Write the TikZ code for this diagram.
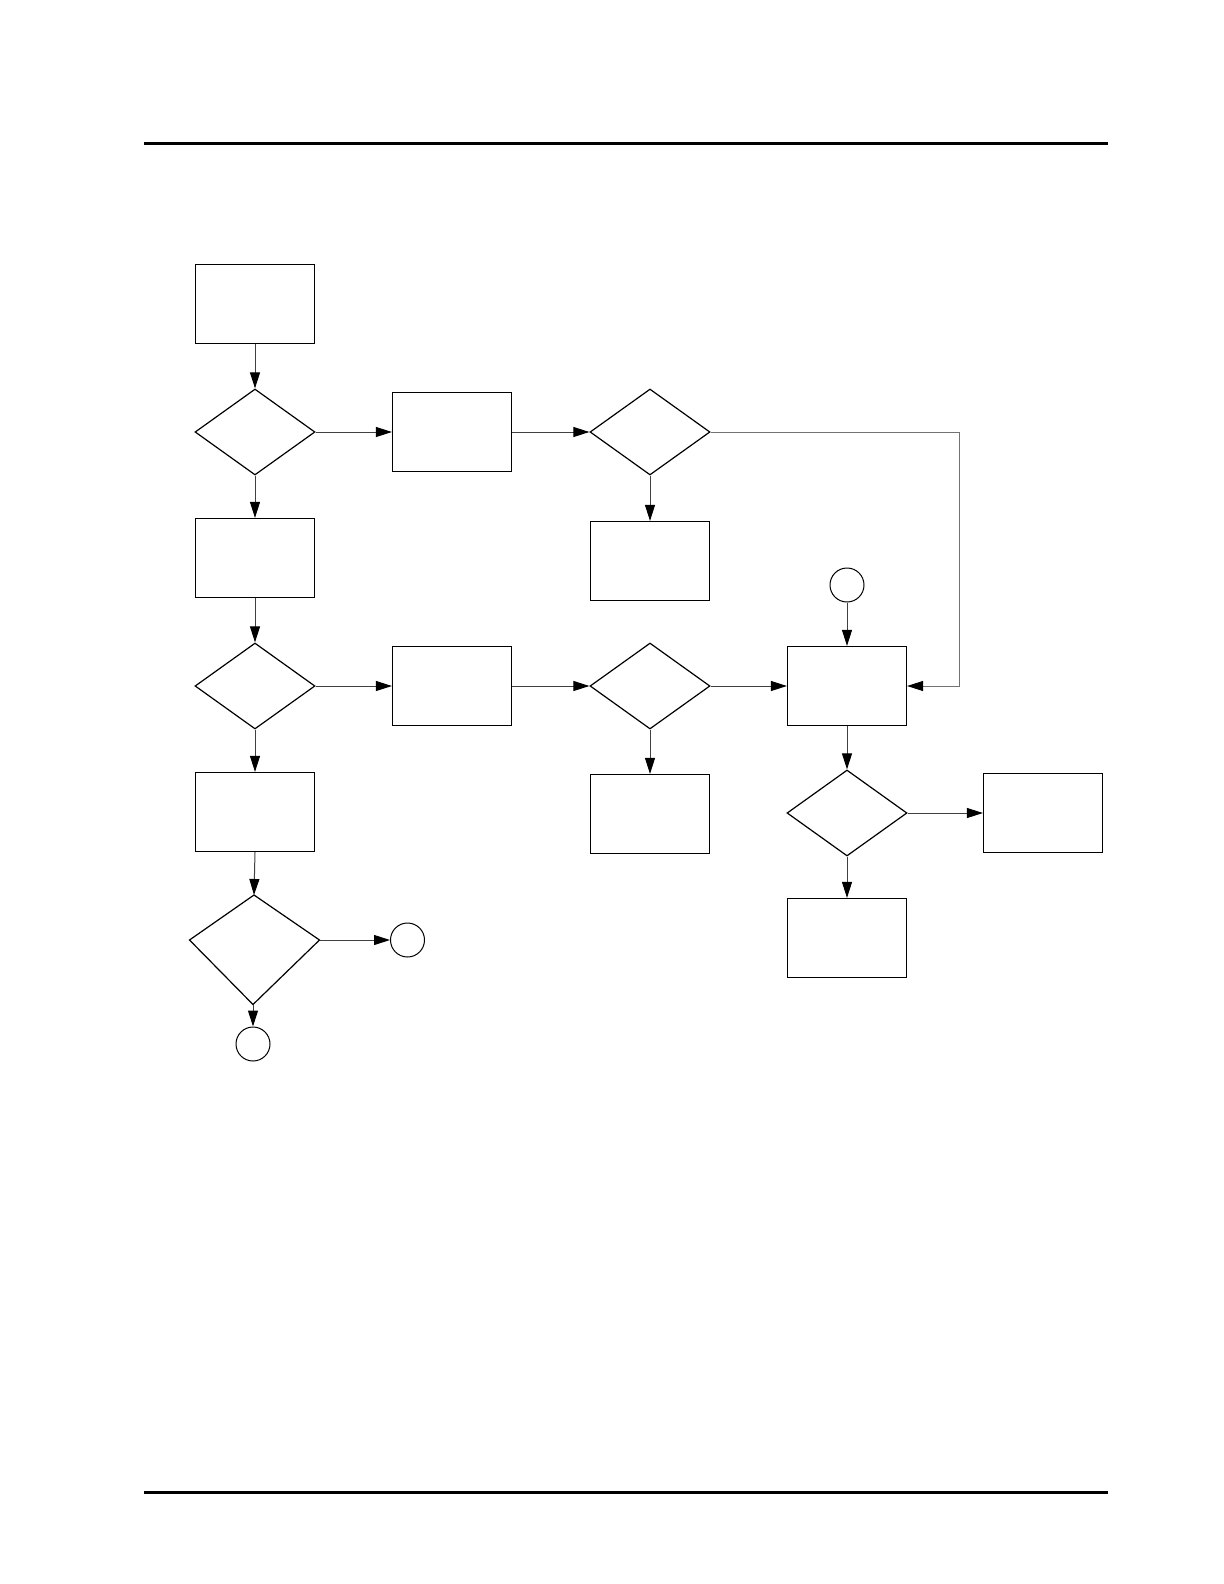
\documentclass[tikz,border=0pt]{standalone}
\usetikzlibrary{shapes.geometric,arrows.meta}

\tikzset{
  procbox/.style={draw,line width=0.6pt,minimum width=59.5pt,minimum height=39.5pt,inner sep=0pt},
  decision/.style={draw,diamond,line width=0.6pt,minimum width=60pt,minimum height=43pt,inner sep=0pt},
  joint/.style={draw,circle,line width=0.5pt,minimum size=17pt,inner sep=0pt},
  flow/.style={-{Triangle[length=8pt,width=5pt,color=black]},line width=0.5pt,draw=black!75},
}

\begin{document}
\begin{tikzpicture}[x=0.5pt,y=-0.5pt]
  \useasboundingbox (0,0) rectangle (1224,1584);

  \def\colA{255}
  \def\colB{452}
  \def\colC{650}
  \def\colD{847}

  % --- page rules ---
  \draw[line width=1.2pt] (144,143.5) -- (1108,143.5);
  \draw[line width=1.2pt] (144,1492.5) -- (1108,1492.5);

  % --- left column ---
  \node[procbox]  (start) at (\colA,304) {};
  \node[decision] (ask1)  at (\colA,432) {};
  \node[procbox]  (stepL1) at (\colA,558) {};
  \node[decision] (ask2)  at (\colA,686) {};
  \node[procbox]  (stepL2) at (\colA,812) {};

  % last decision is a kite (upper half shorter than lower)
  \coordinate (kt) at (254,895);
  \coordinate (kl) at (189.5,940);
  \coordinate (kr) at (319.5,940);
  \coordinate (kb) at (253,1004.5);
  \draw[line width=0.6pt] (kt) -- (kr) -- (kb) -- (kl) -- cycle;
  \node[joint] (outR) at (407.5,940) {};
  \node[joint] (outB) at (253,1044) {};

  % --- upper row ---
  \node[procbox]  (stepU1) at (\colB,432) {};
  \node[decision] (ask3)   at (\colC,432) {};
  \node[procbox]  (stepU2) at (\colC,561) {};

  % --- middle row ---
  \node[procbox]  (stepM1) at (\colB,686) {};
  \node[decision] (ask4)   at (\colC,686) {};
  \node[procbox]  (stepM2) at (\colC,814) {};

  % --- right column ---
  \node[joint]    (inT)    at (\colD,585) {};
  \node[procbox]  (merge)  at (\colD,686) {};
  \node[decision] (ask5)   at (\colD,813) {};
  \node[procbox]  (stepR1) at (1043,813) {};
  \node[procbox]  (stepR2) at (\colD,938) {};
  \coordinate (bend) at (959,432);

  % --- connectors ---
  \draw[flow] (start) -- (ask1);
  \draw[flow] (ask1) -- (stepU1);
  \draw[flow] (stepU1) -- (ask3);
  \draw[flow] (ask3) -- (stepU2);
  \draw[flow,draw=black!55] (ask3.east) -- (bend) |- (merge.east);
  \draw[flow] (ask1) -- (stepL1);
  \draw[flow] (stepL1) -- (ask2);
  \draw[flow] (ask2) -- (stepM1);
  \draw[flow] (stepM1) -- (ask4);
  \draw[flow] (ask4) -- (stepM2);
  \draw[flow] (ask4) -- (merge);
  \draw[flow] (inT) -- (merge);
  \draw[flow] (merge) -- (ask5);
  \draw[flow] (ask5) -- (stepR1);
  \draw[flow] (ask5) -- (stepR2);
  \draw[flow] (ask2) -- (stepL2);
  \draw[flow] (stepL2.south) -- (kt);
  \draw[flow] (kr) -- (outR);
  \draw[flow] (kb) -- (outB);

\end{tikzpicture}
\end{document}
